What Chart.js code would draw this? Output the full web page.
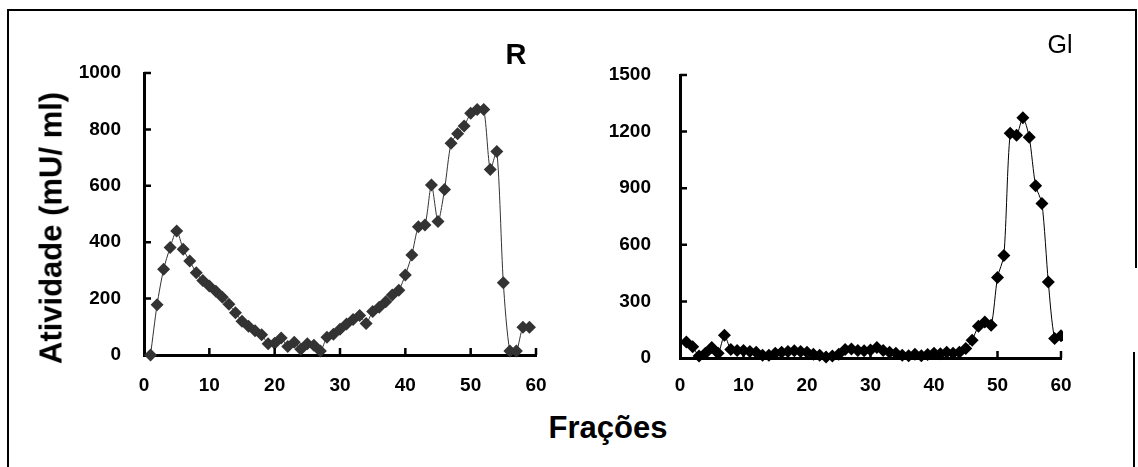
<!DOCTYPE html>
<html>
<head>
<meta charset="utf-8">
<script src="https://cdn.jsdelivr.net/npm/chart.js@4.4.0/dist/chart.umd.min.js"></script>
<style>
    body { margin: 0; background: #fff; }
    #wrap { position: relative; width: 1138px; height: 467px; overflow: hidden; background: #fff;
            font-family: "Liberation Sans", Arial, sans-serif; }
    canvas { position: absolute; }
    .txt { position: absolute; white-space: nowrap; line-height: 1; color: #000; }
    .ln { position: absolute; background: #000; }
</style>
</head>
<body>
<div id="wrap">
    <div class="ln" style="left:7px; top:9px; width:2px; height:458px;"></div>
    <div class="ln" style="left:7px; top:9px; width:1130px; height:2px;"></div>
    <div class="ln" style="left:1135px; top:9px; width:2px; height:259px;"></div>
    <div class="ln" style="left:1133px; top:352px; width:2px; height:115px;"></div>

    <canvas id="chart-r" width="500" height="380" style="left:60px; top:20px;"></canvas>
    <canvas id="chart-gl" width="520" height="380" style="left:580px; top:20px;"></canvas>

    <div class="txt" style="left:51px; top:228px; font-size:31px; font-weight:bold; transform:translate(-50%,-50%) rotate(-90deg);">Atividade (mU/ ml)</div>
    <div class="txt" style="left:608px; top:427px; font-size:31px; font-weight:bold; transform:translate(-50%,-50%);">Frações</div>
    <div class="txt" style="left:516px; top:54px; font-size:29px; font-weight:bold; transform:translate(-50%,-50%);">R</div>
    <div class="txt" style="left:1060px; top:44px; font-size:25px; transform:translate(-50%,-50%);">Gl</div>
</div>

<script>
// frações (eixo x)
var fracoesR = [1,2,3,4,5,6,7,8,9,10,11,12,13,14,15,16,17,18,19,20,
    21,22,23,24,25,26,27,28,29,30,31,32,33,34,35,36,37,38,39,40,
    41,42,43,44,45,46,47,48,49,50,51,52,53,54,55,56,57,58,59];
var fracoesGl = [1,2,3,4,5,6,7,8,9,10,11,12,13,14,15,16,17,18,19,20,
    21,22,23,24,25,26,27,28,29,30,31,32,33,34,35,36,37,38,39,40,
    41,42,43,44,45,46,47,48,49,50,51,52,53,54,55,56,57,58,59,60];

// atividade (mU/ ml)
var atividadeR = [0,178,304,381,440,375,333,292,264,245,226,205,180,150,120,102,86,72,40,42,
    60,30,45,20,40,35,14,63,74,91,110,126,140,112,154,169,189,213,230,284,
    355,455,461,603,473,587,751,785,812,857,871,871,658,722,256,14,14,98,98];
var atividadeGl = [85,60,10,25,55,25,120,45,40,40,35,30,15,15,25,30,35,38,35,30,
    20,15,5,10,20,45,48,40,38,42,55,40,30,25,15,12,20,12,18,25,
    22,30,25,30,50,94,168,191,173,427,543,1191,1180,1274,1170,913,819,403,103,118];

var ticksX = [0,10,20,30,40,50,60];
var ticksR = [0,200,400,600,800,1000];
var ticksGl = [0,300,600,900,1200,1500];

var FONT = '"Liberation Sans", Arial, sans-serif';

function pontos(xs, ys) {
    var out = [];
    for (var i = 0; i < xs.length; i++) {
        out.push({x: xs[i], y: ys[i]});
    }
    return out;
}

// tracinhos para dentro do grafico, como no original
var ticksDentro = {
    id: 'ticksDentro',
    afterDatasetsDraw: function (chart) {
        var ctx = chart.ctx;
        var xs = chart.scales.x, ys = chart.scales.y;
        var a = chart.chartArea;
        ctx.save();
        ctx.strokeStyle = '#000';
        ctx.lineWidth = 2.5;
        ctx.beginPath();
        xs.ticks.forEach(function (t) {
            if (t.value === 0) return;
            var px = xs.getPixelForValue(t.value);
            ctx.moveTo(px, a.bottom);
            ctx.lineTo(px, a.bottom - 7);
        });
        ys.ticks.forEach(function (t) {
            if (t.value === 0) return;
            var py = ys.getPixelForValue(t.value);
            ctx.moveTo(a.left, py);
            ctx.lineTo(a.left + 7, py);
        });
        ctx.stroke();
        ctx.restore();
    }
};

function semVirgula(v) { return String(v); }

function renderChart(id, xs, ys, cor, yTicks, opts) {
    var ctx = document.getElementById(id);
    return new Chart(ctx, {
        type: 'line',
        data: {
            datasets: [{
                data: pontos(xs, ys),
                borderColor: cor,
                borderWidth: 1,
                backgroundColor: cor,
                pointStyle: 'rectRot',
                pointRadius: 6.5,
                pointBorderWidth: 0,
                tension: 0.25,
                clip: opts.clip
            }]
        },
        options: {
            responsive: false,
            animation: false,
            events: [],
            layout: {padding: opts.padding},
            plugins: {legend: {display: false}, tooltip: {enabled: false}},
            scales: {
                x: {
                    type: 'linear',
                    min: 0,
                    max: 60,
                    afterBuildTicks: function (s) { s.ticks = ticksX.map(function (v) { return {value: v}; }); },
                    afterFit: function (s) { s.height = opts.xHeight; },
                    grid: {display: false},
                    border: {display: true, color: '#000', width: 3},
                    ticks: {color: '#000', padding: opts.xPad, callback: semVirgula,
                        font: {family: FONT, size: 19, weight: 'bold'}}
                },
                y: {
                    min: 0,
                    max: yTicks[yTicks.length - 1],
                    afterBuildTicks: function (s) { s.ticks = yTicks.map(function (v) { return {value: v}; }); },
                    afterFit: function (s) { s.width = opts.yWidth; },
                    grid: {display: false},
                    border: {display: true, color: '#000', width: 3},
                    ticks: {color: '#000', padding: opts.yPad, callback: semVirgula,
                        font: {family: FONT, size: 19, weight: 'bold'}}
                }
            }
        },
        plugins: [ticksDentro]
    });
}

renderChart('chart-r', fracoesR, atividadeR, '#333333', ticksR, {
    padding: {left: 0, right: 24, top: 53, bottom: 0},
    xHeight: 45, yWidth: 84, yPad: 15, xPad: 11,
    clip: {left: 10, top: 10, right: 10, bottom: 10}
});

renderChart('chart-gl', fracoesGl, atividadeGl, '#000000', ticksGl, {
    padding: {left: 0, right: 39, top: 55, bottom: 0},
    xHeight: 42, yWidth: 100, yPad: 21, xPad: 8,
    clip: {left: 10, top: 10, right: 2, bottom: 10}
});
</script>
</body>
</html>
